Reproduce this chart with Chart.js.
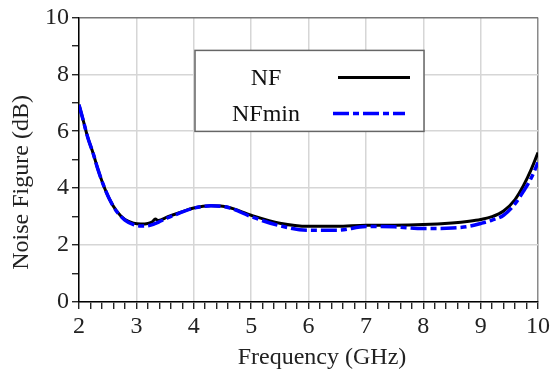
<!DOCTYPE html>
<html>
<head>
<meta charset="utf-8">
<script src="https://cdn.jsdelivr.net/npm/chart.js@4.4.1/dist/chart.umd.min.js"></script>
<style>
    html, body { margin: 0; padding: 0; background: #fff; }
    #wrap { width: 553px; height: 379px; position: relative; }
</style>
</head>
<body>
<div id="wrap"><canvas id="nfChart" width="553" height="379"></canvas></div>
<script>
// frequency in GHz, values in dB
const freq = [2.0, 2.07, 2.15, 2.25, 2.33, 2.42, 2.53, 2.65, 2.8, 2.95, 3.08, 3.2, 3.28, 3.33, 3.38, 3.55, 3.75, 4.0, 4.3, 4.6, 5.0, 5.5, 6.0, 6.5, 7.0, 7.5, 8.0, 8.5, 8.8, 9.0, 9.2, 9.4, 9.6, 9.75, 9.88, 10.0];
const nf = [6.93, 6.41, 5.8, 5.2, 4.66, 4.14, 3.62, 3.21, 2.9, 2.77, 2.74, 2.76, 2.82, 2.92, 2.86, 3.0, 3.14, 3.3, 3.38, 3.33, 3.05, 2.77, 2.66, 2.66, 2.7, 2.7, 2.72, 2.78, 2.84, 2.9, 3.0, 3.2, 3.6, 4.1, 4.65, 5.25];
const nfMin = [6.93, 6.41, 5.8, 5.2, 4.66, 4.14, 3.62, 3.2, 2.88, 2.72, 2.67, 2.68, 2.72, 2.76, 2.8, 2.96, 3.12, 3.3, 3.38, 3.32, 3.0, 2.68, 2.52, 2.52, 2.65, 2.64, 2.58, 2.6, 2.66, 2.76, 2.88, 3.05, 3.45, 3.9, 4.35, 4.9];

const seriesLabels = ['NF', 'NFmin'];
const xTitle = 'Frequency (GHz)';
const yTitle = 'Noise Figure (dB)';

const FONT = '"Liberation Serif", "Times New Roman", serif';
const isInt = v => Math.abs(v - Math.round(v)) < 1e-6;

// legend box drawn inside the plot, like the original figure
const boxLegend = {
    id: 'boxLegend',
    afterDraw(chart) {
        const ctx = chart.ctx;
        const a = chart.chartArea;
        const x0 = a.left + 116, y0 = a.top + 33, w = 229, h = 81;
        ctx.save();
        ctx.fillStyle = '#fff';
        ctx.fillRect(x0, y0, w, h);
        ctx.strokeStyle = '#666';
        ctx.lineWidth = 1.5;
        ctx.strokeRect(x0, y0, w, h);

        ctx.font = '24px ' + FONT;
        ctx.fillStyle = '#111';
        ctx.textAlign = 'center';
        ctx.textBaseline = 'middle';
        const rows = [y0 + 27, y0 + 63];
        chart.data.datasets.forEach((ds, i) => {
            ctx.fillText(ds.label, x0 + 71, rows[i] + 1);
            ctx.beginPath();
            ctx.strokeStyle = ds.borderColor;
            ctx.lineWidth = ds.borderWidth;
            ctx.setLineDash(ds.borderDash || []);
            const sx = i === 0 ? x0 + 143 : x0 + 138;
            ctx.moveTo(sx, rows[i]);
            ctx.lineTo(sx + 72, rows[i]);
            ctx.stroke();
        });
        ctx.restore();
    }
};

// axis titles placed like the source figure (slightly off-centre)
const axisTitles = {
    id: 'axisTitles',
    afterDraw(chart) {
        const ctx = chart.ctx;
        const a = chart.chartArea;
        ctx.save();
        ctx.font = '24px ' + FONT;
        ctx.fillStyle = '#222';
        ctx.textAlign = 'center';
        ctx.textBaseline = 'middle';
        ctx.fillText(xTitle, a.left + 243, a.bottom + 56);
        ctx.translate(22, a.top + 165);
        ctx.rotate(-Math.PI / 2);
        ctx.fillText(yTitle, 0, 0);
        ctx.restore();
    }
};

const chart = new Chart(document.getElementById('nfChart'), {
    type: 'line',
    data: {
        datasets: [
            {
                label: seriesLabels[0],
                data: freq.map((f, i) => ({ x: f, y: nf[i] })),
                borderColor: '#000000',
                borderWidth: 3,
                pointRadius: 0,
                cubicInterpolationMode: 'monotone',
                order: 2
            },
            {
                label: seriesLabels[1],
                data: freq.map((f, i) => ({ x: f, y: nfMin[i] })),
                borderColor: '#0000ff',
                borderWidth: 3.5,
                borderDash: [16, 4, 6, 4],
                pointRadius: 0,
                cubicInterpolationMode: 'monotone',
                order: 1
            }
        ]
    },
    options: {
        responsive: false,
        animation: false,
        layout: { padding: { top: 15, right: 13, left: 0, bottom: 0 } },
        plugins: {
            legend: { display: false },
            tooltip: { enabled: false }
        },
        scales: {
            x: {
                type: 'linear',
                min: 2,
                max: 10,
                afterFit: s => { s.height = 77; },
                border: { color: '#000', width: 1.5 },
                grid: {
                    color: c => isInt(c.tick.value) ? (c.tick.value === 10 ? '#8a8a8a' : '#d6d6d6') : 'rgba(0,0,0,0)',
                    lineWidth: 1.5,
                    tickColor: '#000',
                    tickLength: 7,
                    tickWidth: 1.2
                },
                ticks: {
                    stepSize: 0.2,
                    autoSkip: false,
                    maxRotation: 0,
                    padding: 3,
                    color: '#222',
                    font: { family: FONT, size: 24 },
                    callback: v => isInt(v) ? String(Math.round(v)) : ''
                }
            },
            y: {
                min: 0,
                max: 10,
                afterFit: s => { s.width = 79; },
                border: { color: '#000', width: 1.5 },
                grid: {
                    color: c => (c.tick.value % 2 === 0) ? (c.tick.value === 10 ? '#777' : '#d6d6d6') : 'rgba(0,0,0,0)',
                    lineWidth: 1.5,
                    tickColor: '#000',
                    tickLength: 7,
                    tickWidth: 1.2
                },
                ticks: {
                    stepSize: 1,
                    autoSkip: false,
                    padding: 3,
                    color: '#222',
                    font: { family: FONT, size: 24 },
                    callback: v => (v % 2 === 0) ? String(v) : ''
                }
            }
        }
    },
    plugins: [boxLegend, axisTitles]
});
</script>
</body>
</html>
